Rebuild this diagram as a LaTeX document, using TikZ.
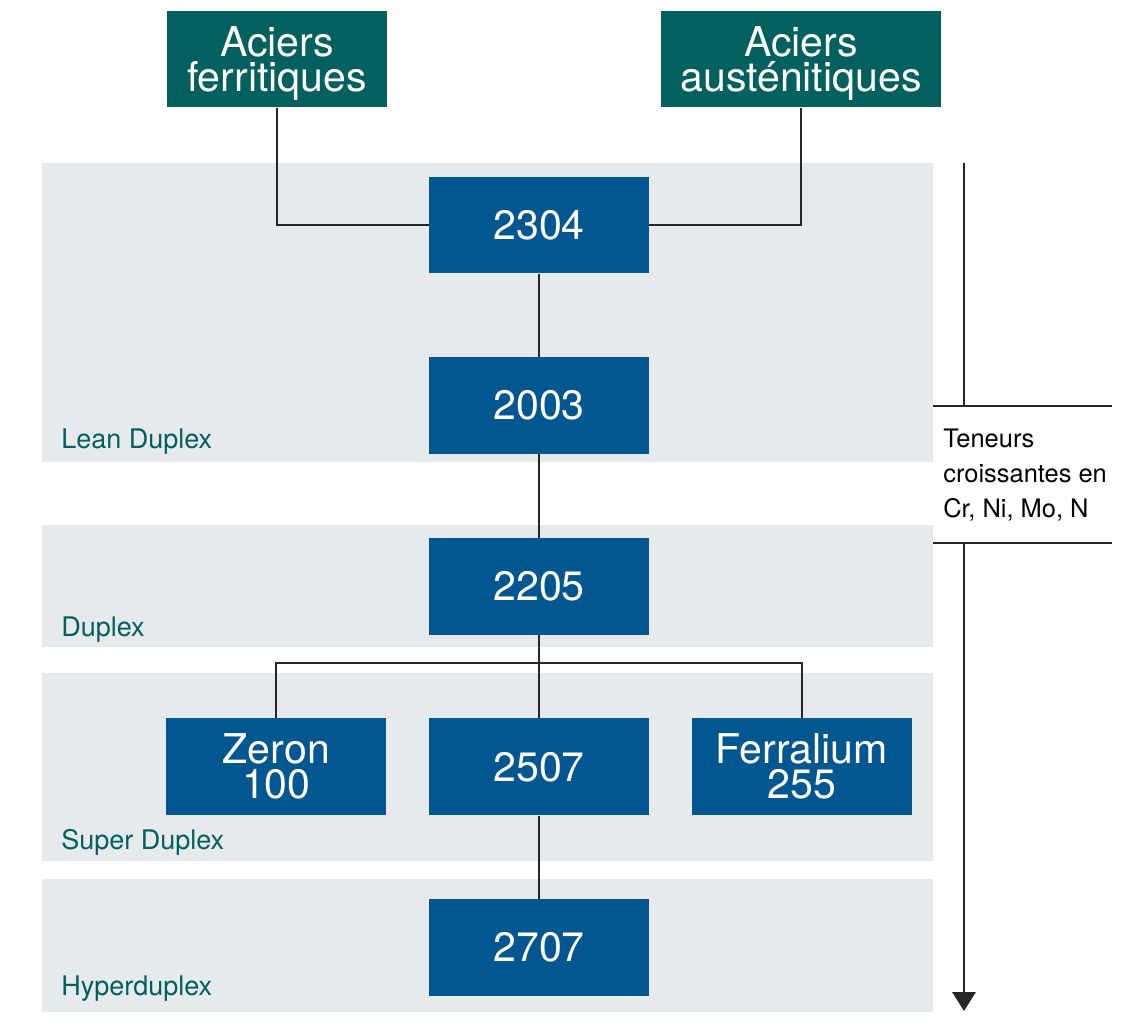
\documentclass[tikz,border=0pt]{standalone}
\usepackage{fontspec}
\setmainfont{TeX Gyre Heros}
\usetikzlibrary{arrows.meta,positioning}

\definecolor{steelteal}{RGB}{2,96,94}
\definecolor{steelblue}{RGB}{3,87,145}
\definecolor{bandgray}{RGB}{230,234,237}

\begin{document}
\begin{tikzpicture}[
  x=0.025cm, y=-0.025cm,
  node distance=2.08cm and 1.05cm,
  grade/.style={rectangle, fill=steelblue, text=white, minimum width=5.5cm, minimum height=2.42cm, inner sep=0pt, align=center, font=\fontsize{29.2pt}{24.9pt}\selectfont},
  family/.style={grade, fill=steelteal, text depth=0pt},
  band/.style={fill=bandgray},
  bandlabel/.style={anchor=base west, inner sep=0pt, text=steelteal, font=\fontsize{19.2pt}{23pt}\selectfont},
  note/.style={anchor=north west, inner sep=0pt, align=left, font=\fontsize{18.1pt}{24.9pt}\selectfont},
  link/.style={line width=1.3pt, draw=black!85}
]
  \useasboundingbox (0,0) rectangle (1121,1031);

  % grey bands, one per duplex family
  \fill[band] (42,163) rectangle (933,462);
  \fill[band] (42,525) rectangle (933,647);
  \fill[band] (42,673) rectangle (933,861);
  \fill[band] (42,879) rectangle (933,1012);
  \node[bandlabel] (lean) at (61,449) {Lean Duplex};
  \node[bandlabel] (duplex) at (61,636) {Duplex};
  \node[bandlabel] (super) at (61,849) {Super Duplex};
  \node[bandlabel] (hyper) at (61,995) {Hyperduplex};

  \node[family] (fer) at (277,59) {Aciers\\ferritiques};
  \node[family, minimum width=7cm] (aus) at (801,59) {Aciers\\austénitiques};

  \node[grade] (g2304) at (539,225) {2304};
  \node[grade, below=of g2304] (g2003) {2003};
  \node[grade, below=of g2003] (g2205) {2205};
  \node[grade, below=of g2205] (g2507) {2507};
  \node[grade, left=of g2507] (zeron) {Zeron\\100};
  \node[grade, right=of g2507] (ferral) {Ferralium\\255};
  \node[grade, below=of g2507] (g2707) {2707};

  \draw[link] (fer) |- (g2304);
  \draw[link] (aus) |- (g2304);
  \draw[link] (g2304) -- (g2003);
  \draw[link] (g2003) -- (g2205);
  \draw[link] (g2205) -- (g2507);
  \draw[link] (g2507) -- (g2707);
  \draw[link] (zeron.north) -- ++(0,-55) -| (ferral.north);

  % alloy content axis
  \coordinate (arrtop) at (964,163);
  \coordinate (arrend) at (964,1011);
  \coordinate (brkhi) at (933,406);
  \coordinate (brkhiR) at (1112,406);
  \coordinate (brklo) at (933,543);
  \coordinate (brkloR) at (1112,543);
  \node[note] (rise) at (943,429) {Teneurs\\croissantes en\\Cr, Ni, Mo, N};
  \draw[link] (brkhi) -- (brkhiR);
  \draw[link] (brklo) -- (brkloR);
  \draw[link] (arrtop) -- (arrtop |- brkhi);
  \draw[link, -{Triangle[width=0.58cm, length=0.47cm]}] (arrtop |- brklo) -- (arrend);
\end{tikzpicture}
\end{document}
